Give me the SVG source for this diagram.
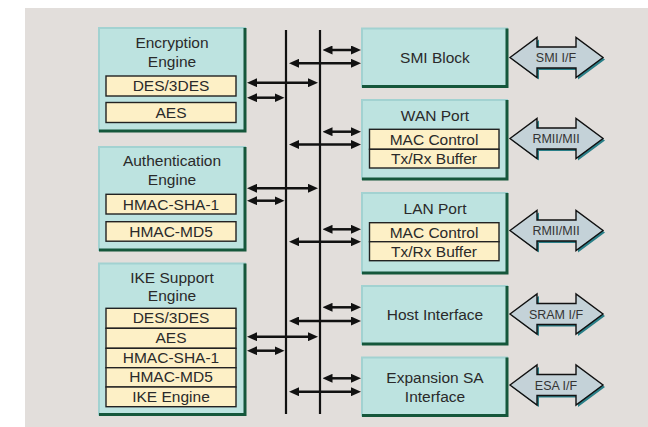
<svg xmlns="http://www.w3.org/2000/svg" width="648" height="427" viewBox="0 0 648 427">
<style>
.bg{fill:#e2dedb}
.box{fill:#bde3e0;stroke:#a2d2d1;stroke-width:2}
.bev{fill:none;stroke:#15573b;stroke-width:3}
.sub{fill:#fdf0c6;stroke:#222;stroke-width:1.4}
.t{font-family:"Liberation Sans",Arial,sans-serif;font-size:15.5px;fill:#2a2a2a;text-anchor:middle}
.ts{font-family:"Liberation Sans",Arial,sans-serif;font-size:12.5px;fill:#333;text-anchor:middle}
.bus{stroke:#111;stroke-width:2.2}
.c{stroke:#111;stroke-width:2.5;fill:none;marker-start:url(#ah);marker-end:url(#ah)}
.io{fill:#c4d2d8;stroke:#111;stroke-width:1.4}
.ios{fill:#2a7f88}
</style>
<defs>
<marker id="ah" viewBox="0 0 10 9" refX="5" refY="4.5" markerWidth="10" markerHeight="9" markerUnits="userSpaceOnUse" orient="auto-start-reverse">
<path d="M0,0 L10,4.5 L0,9 z" fill="#111"/>
</marker>
<path id="dbl" d="M510,0 L537,-20 L537,-10.5 L576,-10.5 L576,-20 L603,0 L576,20 L576,10.5 L537,10.5 L537,20 Z"/>
</defs>
<rect class="bg" x="25" y="8" width="623" height="419"/>

<g id="bus">
<line class="bus" x1="286" y1="30" x2="286" y2="414"/>
<line class="bus" x1="320" y1="30" x2="320" y2="414"/>
</g>

<g id="connectors">
<line class="c" x1="252" y1="82.7" x2="313" y2="82.7"/>
<line class="c" x1="252" y1="97.7" x2="279.5" y2="97.7"/>
<line class="c" x1="252" y1="188.3" x2="313" y2="188.3"/>
<line class="c" x1="252" y1="200.7" x2="279.5" y2="200.7"/>
<line class="c" x1="252" y1="336.7" x2="313" y2="336.7"/>
<line class="c" x1="252" y1="350.7" x2="279.5" y2="350.7"/>
<line class="c" x1="327.5" y1="50" x2="356" y2="50"/>
<line class="c" x1="294" y1="63.3" x2="356" y2="63.3"/>
<line class="c" x1="327.5" y1="131.7" x2="356" y2="131.7"/>
<line class="c" x1="294" y1="144.5" x2="356" y2="144.5"/>
<line class="c" x1="327.5" y1="229.3" x2="356" y2="229.3"/>
<line class="c" x1="294" y1="241.7" x2="356" y2="241.7"/>
<line class="c" x1="327.5" y1="307.3" x2="356" y2="307.3"/>
<line class="c" x1="294" y1="321" x2="356" y2="321"/>
<line class="c" x1="327.5" y1="378.3" x2="356" y2="378.3"/>
<line class="c" x1="294" y1="391.7" x2="356" y2="391.7"/>
</g>

<g id="encryption">
<rect class="box" x="99" y="28" width="146" height="103"/>
<polyline class="bev" points="245,28 245,131 99,131"/>
<text class="t" x="172" y="48">Encryption</text>
<text class="t" x="172" y="67">Engine</text>
<rect class="sub" x="106" y="76" width="130" height="20"/>
<text class="t" x="171" y="91">DES/3DES</text>
<rect class="sub" x="106" y="102.5" width="130" height="20"/>
<text class="t" x="171" y="117.5">AES</text>
</g>

<g id="authentication">
<rect class="box" x="99" y="147" width="146" height="103"/>
<polyline class="bev" points="245,147 245,250 99,250"/>
<text class="t" x="172" y="166">Authentication</text>
<text class="t" x="172" y="184.5">Engine</text>
<rect class="sub" x="106" y="194.3" width="130" height="19.7"/>
<text class="t" x="171" y="209.5">HMAC-SHA-1</text>
<rect class="sub" x="106" y="221.7" width="130" height="19.5"/>
<text class="t" x="171" y="236.8">HMAC-MD5</text>
</g>

<g id="ike">
<rect class="box" x="99" y="263.5" width="146" height="151"/>
<polyline class="bev" points="245,263.5 245,414.5 99,414.5"/>
<text class="t" x="172" y="282.7">IKE Support</text>
<text class="t" x="172" y="300.7">Engine</text>
<rect class="sub" x="106" y="308.3" width="130" height="20"/>
<text class="t" x="171" y="323.3">DES/3DES</text>
<rect class="sub" x="106" y="328.3" width="130" height="20"/>
<text class="t" x="171" y="343.3">AES</text>
<rect class="sub" x="106" y="348.3" width="130" height="19.4"/>
<text class="t" x="171" y="363">HMAC-SHA-1</text>
<rect class="sub" x="106" y="367.7" width="130" height="19.3"/>
<text class="t" x="171" y="382.4">HMAC-MD5</text>
<rect class="sub" x="106" y="387" width="130" height="19.7"/>
<text class="t" x="171" y="402">IKE Engine</text>
</g>

<g id="smi">
<rect class="box" x="362" y="28.5" width="145" height="58"/>
<polyline class="bev" points="507,28.5 507,86.5 362,86.5"/>
<text class="t" x="435" y="62.7">SMI Block</text>
</g>

<g id="wan">
<rect class="box" x="362" y="100" width="145" height="79"/>
<polyline class="bev" points="507,100 507,179 362,179"/>
<text class="t" x="435" y="120.7">WAN Port</text>
<rect class="sub" x="369.5" y="129.3" width="129.5" height="20"/>
<text class="t" x="434" y="144.5">MAC Control</text>
<rect class="sub" x="369.5" y="149.3" width="129.5" height="18.7"/>
<text class="t" x="434" y="163.8">Tx/Rx Buffer</text>
</g>

<g id="lan">
<rect class="box" x="362" y="193" width="145" height="80"/>
<polyline class="bev" points="507,193 507,273 362,273"/>
<text class="t" x="435" y="214">LAN Port</text>
<rect class="sub" x="369.5" y="222.7" width="129.5" height="19"/>
<text class="t" x="434" y="237.5">MAC Control</text>
<rect class="sub" x="369.5" y="241.7" width="129.5" height="19"/>
<text class="t" x="434" y="256.5">Tx/Rx Buffer</text>
</g>

<g id="host">
<rect class="box" x="362" y="286" width="145" height="58"/>
<polyline class="bev" points="507,286 507,344 362,344"/>
<text class="t" x="435" y="320">Host Interface</text>
</g>

<g id="expansion">
<rect class="box" x="362" y="357.5" width="145" height="58"/>
<polyline class="bev" points="507,357.5 507,415.5 362,415.5"/>
<text class="t" x="435" y="383.3">Expansion SA</text>
<text class="t" x="435" y="401.7">Interface</text>
</g>

<g id="smi-if">
<use href="#dbl" class="ios" transform="translate(2,59.5)"/>
<use href="#dbl" class="io" transform="translate(0,57.5)"/>
<text class="ts" x="556" y="62">SMI I/F</text>
</g>
<g id="wan-if">
<use href="#dbl" class="ios" transform="translate(2,140.5)"/>
<use href="#dbl" class="io" transform="translate(0,138.5)"/>
<text class="ts" x="556" y="143">RMII/MII</text>
</g>
<g id="lan-if">
<use href="#dbl" class="ios" transform="translate(2,232.5)"/>
<use href="#dbl" class="io" transform="translate(0,230.5)"/>
<text class="ts" x="556" y="235">RMII/MII</text>
</g>
<g id="sram-if">
<use href="#dbl" class="ios" transform="translate(2,316)"/>
<use href="#dbl" class="io" transform="translate(0,314)"/>
<text class="ts" x="556" y="318.5">SRAM I/F</text>
</g>
<g id="esa-if">
<use href="#dbl" class="ios" transform="translate(2,387)"/>
<use href="#dbl" class="io" transform="translate(0,385)"/>
<text class="ts" x="556" y="389.5">ESA I/F</text>
</g>
</svg>
